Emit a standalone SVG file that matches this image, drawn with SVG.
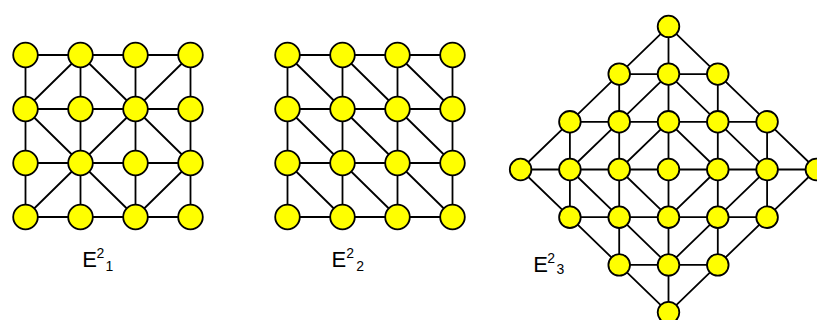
<svg xmlns="http://www.w3.org/2000/svg" width="817" height="320" viewBox="0 0 817 320">
<style>
.e{stroke:#000;stroke-width:1.8;fill:none;stroke-linecap:round}
.n{fill:#FFFF00;stroke:#000;stroke-width:1.8}
.t{font-family:"Liberation Sans",Arial,sans-serif;fill:#000}
.big{font-size:22px}
.small{font-size:14px}
</style>
<rect width="817" height="320" fill="#fff"/>
<g id="connectors">
<g id="edges-E21">
<path class="e" d="M25.5 55H80.5M80.5 55H135.5M135.5 55H190.5M25.5 109H80.5M80.5 109H135.5M135.5 109H190.5M25.5 163H80.5M80.5 163H135.5M135.5 163H190.5M25.5 217H80.5M80.5 217H135.5M135.5 217H190.5"/>
<path class="e" d="M25.5 55V109M25.5 109V163M25.5 163V217M80.5 55V109M80.5 109V163M80.5 163V217M135.5 55V109M135.5 109V163M135.5 163V217M190.5 55V109M190.5 109V163M190.5 163V217"/>
<path class="e" d="M80.5 55L25.5 109M80.5 55L135.5 109M190.5 55L135.5 109M25.5 109L80.5 163M135.5 109L80.5 163M135.5 109L190.5 163M80.5 163L25.5 217M80.5 163L135.5 217M190.5 163L135.5 217"/>
</g>
<g id="edges-E22">
<path class="e" d="M287.5 55H342.5M342.5 55H397.5M397.5 55H452.5M287.5 109H342.5M342.5 109H397.5M397.5 109H452.5M287.5 163H342.5M342.5 163H397.5M397.5 163H452.5M287.5 217H342.5M342.5 217H397.5M397.5 217H452.5"/>
<path class="e" d="M287.5 55V109M287.5 109V163M287.5 163V217M342.5 55V109M342.5 109V163M342.5 163V217M397.5 55V109M397.5 109V163M397.5 163V217M452.5 55V109M452.5 109V163M452.5 163V217"/>
<path class="e" d="M287.5 55L342.5 109M342.5 55L397.5 109M397.5 55L452.5 109M287.5 109L342.5 163M342.5 109L397.5 163M397.5 109L452.5 163M287.5 163L342.5 217M342.5 163L397.5 217M397.5 163L452.5 217"/>
</g>
<g id="edges-E23">
<path class="e" d="M619.2 74.1H668.5M668.5 74.1H717.8M569.9 121.8H619.2M619.2 121.8H668.5M668.5 121.8H717.8M717.8 121.8H767.1M520.6 169.5H569.9M569.9 169.5H619.2M619.2 169.5H668.5M668.5 169.5H717.8M717.8 169.5H767.1M767.1 169.5H816.4M569.9 217.2H619.2M619.2 217.2H668.5M668.5 217.2H717.8M717.8 217.2H767.1M619.2 264.9H668.5M668.5 264.9H717.8"/>
<path class="e" d="M668.5 26.4V74.1M668.5 74.1V121.8M668.5 121.8V169.5M668.5 169.5V217.2M668.5 217.2V264.9M668.5 264.9V312.6M619.2 74.1V121.8M619.2 121.8V169.5M619.2 169.5V217.2M619.2 217.2V264.9M717.8 74.1V121.8M717.8 121.8V169.5M717.8 169.5V217.2M717.8 217.2V264.9M569.9 121.8V169.5M569.9 169.5V217.2M767.1 121.8V169.5M767.1 169.5V217.2"/>
<path class="e" d="M668.5 26.4L619.2 74.1M668.5 26.4L717.8 74.1M619.2 74.1L569.9 121.8M668.5 74.1L619.2 121.8M668.5 74.1L717.8 121.8M717.8 74.1L767.1 121.8M569.9 121.8L520.6 169.5M619.2 121.8L569.9 169.5M668.5 121.8L619.2 169.5M668.5 121.8L717.8 169.5M717.8 121.8L767.1 169.5M767.1 121.8L816.4 169.5"/>
<path class="e" d="M520.6 169.5L569.9 217.2M569.9 169.5L619.2 217.2M619.2 169.5L668.5 217.2M717.8 169.5L668.5 217.2M767.1 169.5L717.8 217.2M816.4 169.5L767.1 217.2M569.9 217.2L619.2 264.9M619.2 217.2L668.5 264.9M717.8 217.2L668.5 264.9M767.1 217.2L717.8 264.9M619.2 264.9L668.5 312.6M717.8 264.9L668.5 312.6"/>
</g>
</g>
<g id="graph-E21">
<g id="a00"><circle class="n" cx="25.5" cy="55" r="12.3"/></g>
<g id="a10"><circle class="n" cx="80.5" cy="55" r="12.3"/></g>
<g id="a20"><circle class="n" cx="135.5" cy="55" r="12.3"/></g>
<g id="a30"><circle class="n" cx="190.5" cy="55" r="12.3"/></g>
<g id="a01"><circle class="n" cx="25.5" cy="109" r="12.3"/></g>
<g id="a11"><circle class="n" cx="80.5" cy="109" r="12.3"/></g>
<g id="a21"><circle class="n" cx="135.5" cy="109" r="12.3"/></g>
<g id="a31"><circle class="n" cx="190.5" cy="109" r="12.3"/></g>
<g id="a02"><circle class="n" cx="25.5" cy="163" r="12.3"/></g>
<g id="a12"><circle class="n" cx="80.5" cy="163" r="12.3"/></g>
<g id="a22"><circle class="n" cx="135.5" cy="163" r="12.3"/></g>
<g id="a32"><circle class="n" cx="190.5" cy="163" r="12.3"/></g>
<g id="a03"><circle class="n" cx="25.5" cy="217" r="12.3"/></g>
<g id="a13"><circle class="n" cx="80.5" cy="217" r="12.3"/></g>
<g id="a23"><circle class="n" cx="135.5" cy="217" r="12.3"/></g>
<g id="a33"><circle class="n" cx="190.5" cy="217" r="12.3"/></g>
</g>
<g id="graph-E22">
<g id="b00"><circle class="n" cx="287.5" cy="55" r="12.3"/></g>
<g id="b10"><circle class="n" cx="342.5" cy="55" r="12.3"/></g>
<g id="b20"><circle class="n" cx="397.5" cy="55" r="12.3"/></g>
<g id="b30"><circle class="n" cx="452.5" cy="55" r="12.3"/></g>
<g id="b01"><circle class="n" cx="287.5" cy="109" r="12.3"/></g>
<g id="b11"><circle class="n" cx="342.5" cy="109" r="12.3"/></g>
<g id="b21"><circle class="n" cx="397.5" cy="109" r="12.3"/></g>
<g id="b31"><circle class="n" cx="452.5" cy="109" r="12.3"/></g>
<g id="b02"><circle class="n" cx="287.5" cy="163" r="12.3"/></g>
<g id="b12"><circle class="n" cx="342.5" cy="163" r="12.3"/></g>
<g id="b22"><circle class="n" cx="397.5" cy="163" r="12.3"/></g>
<g id="b32"><circle class="n" cx="452.5" cy="163" r="12.3"/></g>
<g id="b03"><circle class="n" cx="287.5" cy="217" r="12.3"/></g>
<g id="b13"><circle class="n" cx="342.5" cy="217" r="12.3"/></g>
<g id="b23"><circle class="n" cx="397.5" cy="217" r="12.3"/></g>
<g id="b33"><circle class="n" cx="452.5" cy="217" r="12.3"/></g>
</g>
<g id="graph-E23">
<g id="c0m3"><circle class="n" cx="668.5" cy="26.4" r="10.8"/></g>
<g id="cm1m2"><circle class="n" cx="619.2" cy="74.1" r="10.8"/></g>
<g id="c0m2"><circle class="n" cx="668.5" cy="74.1" r="10.8"/></g>
<g id="c1m2"><circle class="n" cx="717.8" cy="74.1" r="10.8"/></g>
<g id="cm2m1"><circle class="n" cx="569.9" cy="121.8" r="10.8"/></g>
<g id="cm1m1"><circle class="n" cx="619.2" cy="121.8" r="10.8"/></g>
<g id="c0m1"><circle class="n" cx="668.5" cy="121.8" r="10.8"/></g>
<g id="c1m1"><circle class="n" cx="717.8" cy="121.8" r="10.8"/></g>
<g id="c2m1"><circle class="n" cx="767.1" cy="121.8" r="10.8"/></g>
<g id="cm30"><circle class="n" cx="520.6" cy="169.5" r="10.8"/></g>
<g id="cm20"><circle class="n" cx="569.9" cy="169.5" r="10.8"/></g>
<g id="cm10"><circle class="n" cx="619.2" cy="169.5" r="10.8"/></g>
<g id="c00"><circle class="n" cx="668.5" cy="169.5" r="10.8"/></g>
<g id="c10"><circle class="n" cx="717.8" cy="169.5" r="10.8"/></g>
<g id="c20"><circle class="n" cx="767.1" cy="169.5" r="10.8"/></g>
<g id="c30"><circle class="n" cx="816.4" cy="169.5" r="10.8"/></g>
<g id="cm21"><circle class="n" cx="569.9" cy="217.2" r="10.8"/></g>
<g id="cm11"><circle class="n" cx="619.2" cy="217.2" r="10.8"/></g>
<g id="c01"><circle class="n" cx="668.5" cy="217.2" r="10.8"/></g>
<g id="c11"><circle class="n" cx="717.8" cy="217.2" r="10.8"/></g>
<g id="c21"><circle class="n" cx="767.1" cy="217.2" r="10.8"/></g>
<g id="cm12"><circle class="n" cx="619.2" cy="264.9" r="10.8"/></g>
<g id="c02"><circle class="n" cx="668.5" cy="264.9" r="10.8"/></g>
<g id="c12"><circle class="n" cx="717.8" cy="264.9" r="10.8"/></g>
<g id="c03"><circle class="n" cx="668.5" cy="312.6" r="10.8"/></g>
</g>
<g id="labels">
<g id="label-E21"><text class="t big" x="82.3" y="267">E</text><text class="t small" x="96.6" y="258">2</text><text class="t small" x="105.6" y="271">1</text></g>
<g id="label-E22"><text class="t big" x="331.6" y="266.7">E</text><text class="t small" x="346.3" y="257.7">2</text><text class="t small" x="356.3" y="271">2</text></g>
<g id="label-E23"><text class="t big" x="533.3" y="271.7">E</text><text class="t small" x="547.3" y="263">2</text><text class="t small" x="556.5" y="274">3</text></g>
</g>
</svg>
